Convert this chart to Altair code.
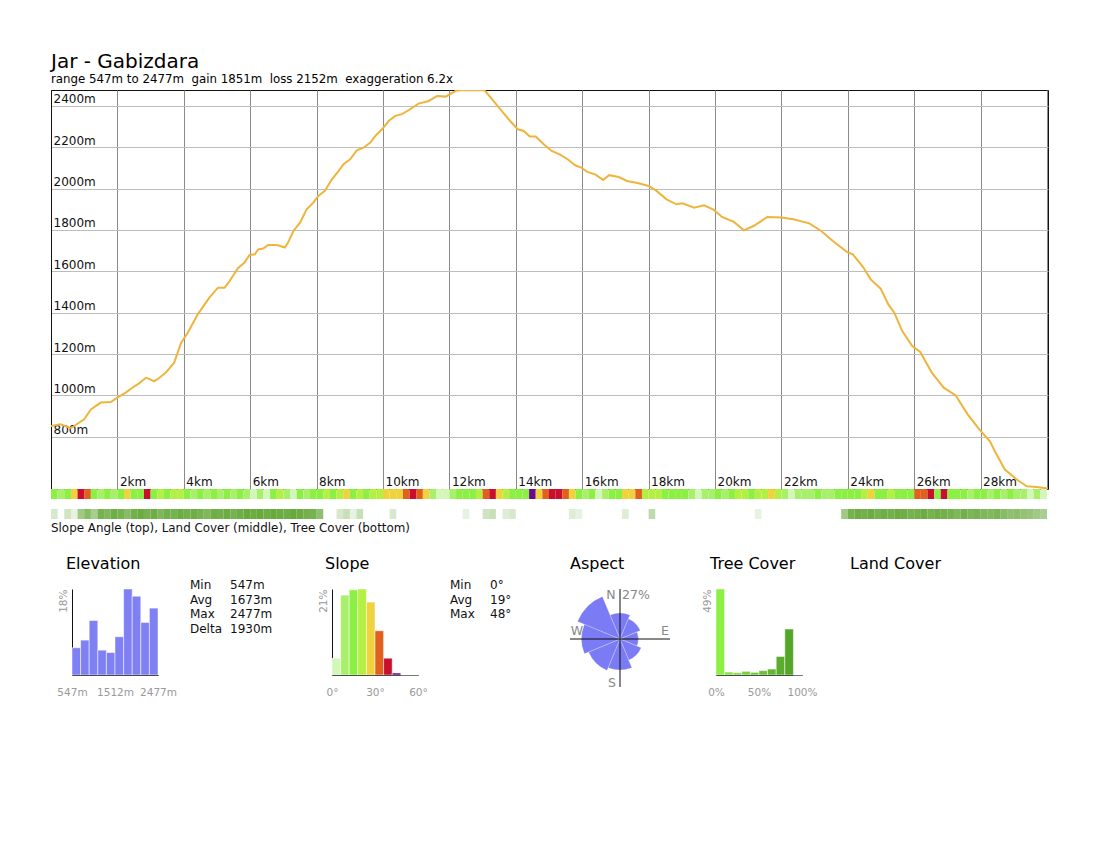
import altair as alt
import pandas as pd

FONT = "DejaVu Sans"
NB = "\u00a0"

TITLE = "Jar - Gabizdara"
SUBTITLE = ("range 547m to 2477m" + NB + " gain 1851m" + NB + " loss 2152m" + NB
            + " exaggeration 6.2x")
STRIP_CAPTION = "Slope Angle (top), Land Cover (middle), Tree Cover (bottom)"

# ---------------- elevation profile ----------------
dist_km = [0, 0.28, 0.6, 1.0, 1.2, 1.5, 1.8, 2.0, 2.25, 2.45, 2.65, 2.86, 2.96, 3.1, 3.2,
           3.46, 3.71, 3.92, 4.12, 4.42, 4.77, 5.03, 5.23, 5.38, 5.63, 5.83, 5.98, 6.14,
           6.24, 6.39, 6.54, 6.74, 6.84, 7.04, 7.14, 7.3, 7.5, 7.7, 7.9, 8.05, 8.25, 8.46,
           8.66, 8.81, 9.01, 9.21, 9.41, 9.62, 9.77, 9.97, 10.17, 10.37, 10.57, 10.77,
           11.07, 11.38, 11.63, 11.89, 12.19, 12.45, 12.69, 13.05, 13.29, 13.53, 13.83,
           14.06, 14.24, 14.42, 14.6, 14.84, 15.08, 15.32, 15.56, 15.79, 15.97, 16.15,
           16.39, 16.63, 16.81, 17.1, 17.35, 17.7, 18.0, 18.24, 18.54, 18.84, 19.02, 19.37,
           19.67, 19.97, 20.21, 20.57, 20.87, 21.16, 21.58, 22.0, 22.36, 22.84, 23.2, 23.55,
           23.97, 24.15, 24.45, 24.69, 24.99, 25.22, 25.4, 25.64, 25.94, 26.18, 26.53,
           26.89, 27.25, 27.61, 27.96, 28.28, 28.43, 28.73, 29.09, 29.39, 29.69, 30.03]
elev_m = [852, 860, 842, 884, 932, 965, 968, 989, 1013, 1037, 1058, 1085, 1080, 1068, 1077,
          1110, 1158, 1255, 1303, 1392, 1473, 1521, 1521, 1553, 1615, 1642, 1679, 1682,
          1706, 1710, 1727, 1727, 1726, 1715, 1739, 1795, 1835, 1900, 1932, 1965, 1989, 2045,
          2085, 2118, 2142, 2185, 2198, 2223, 2255, 2287, 2327, 2352, 2360, 2379,
          2411, 2424, 2448, 2445, 2473, 2477, 2476, 2477, 2432, 2384, 2327,
          2287, 2279, 2252, 2252, 2215, 2182, 2166, 2142, 2113, 2102, 2081,
          2069, 2042, 2065, 2056, 2037, 2026, 2013, 1989, 1948, 1924, 1929, 1908,
          1919, 1897, 1863, 1839, 1798, 1819, 1863, 1860, 1852, 1832, 1795, 1747,
          1694, 1682, 1623, 1561, 1516, 1440, 1400, 1311, 1239, 1210, 1110,
          1037, 1000, 908, 835, 778, 730, 641, 593, 560, 557, 549]

DIST_MAX = 30.03
ELEV_MIN, ELEV_MAX = 547, 2477
x_ticks_km = [2, 4, 6, 8, 10, 12, 14, 16, 18, 20, 22, 24, 26, 28, 30]
y_ticks_m = [800, 1000, 1200, 1400, 1600, 1800, 2000, 2200, 2400]

# ---------------- strips (0.2 km cells) ----------------
STEP_KM = 0.2
slope_deg = [14, 10, 14, 28, 38, 34, 12, 8, 14, 10,
             16, 26, 12, 14, 36, 16, 20, 14, 22, 18,
             14, 10, 14, 8, 14, 10, 16, 8, 12, 8,
             5, 10, 5, 12, 20, 8, 5, 14, 10, 16,
             12, 18, 14, 20, 26, 16, 20, 14, 22, 18,
             24, 26, 24, 34, 38, 30, 28, 10, 5, 4,
             8, 14, 16, 12, 18, 34, 36, 26, 20, 14,
             16, 12, 44, 28, 30, 36, 38, 34, 28, 12,
             10, 14, 5, 10, 12, 16, 28, 26, 30, 22,
             20, 22, 14, 12, 16, 12, 8, 5, 8, 10,
             12, 8, 14, 18, 20, 16, 22, 20, 26, 22,
             8, 4, 6, 10, 8, 12, 8, 10, 14, 12,
             16, 14, 20, 26, 16, 14, 18, 12, 16, 14,
             34, 30, 36, 14, 36, 14, 12, 16, 10, 14,
             12, 10, 14, 8, 12, 6, 10, 5, 8, 4]
tree_cover = [25, 0, 30, 15, 60, 75, 55, 85, 80, 90,
              85, 75, 88, 92, 85, 90, 80, 88, 85, 92,
              88, 90, 85, 80, 90, 88, 92, 85, 90, 95,
              92, 95, 90, 95, 92, 90, 95, 92, 88, 85,
              70, 0, 0, 25, 35, 15, 35, 0, 0, 0,
              0, 25, 0, 0, 0, 0, 0, 0, 0, 0,
              0, 0, 15, 0, 0, 30, 35, 0, 20, 25,
              0, 0, 0, 0, 0, 0, 0, 0, 20, 15,
              0, 0, 0, 0, 0, 0, 20, 0, 0, 0,
              40, 0, 0, 0, 0, 0, 0, 0, 0, 0,
              0, 0, 0, 0, 0, 0, 15, 0, 0, 0,
              0, 0, 0, 0, 0, 0, 0, 0, 0, 60,
              85, 90, 88, 92, 85, 90, 88, 92, 90, 85,
              88, 92, 85, 90, 88, 85, 80, 88, 82, 85,
              80, 78, 82, 75, 70, 72, 68, 65, 60, 55]

slope_thresholds = [6, 12, 18, 24, 30, 36, 42]
slope_colors = ["#d2f7b8", "#a8f06c", "#8cf044", "#b4f044", "#f0d23c",
                "#e0601e", "#c8102e", "#6a0a8a"]
TREE_GREEN = "#5fa532"

# ---------------- histograms ----------------
elev_hist_pct = [5.7, 7.3, 11.4, 5.2, 4.7, 8.0, 18.0, 16.5, 11.0, 14.0]
slope_hist_pct = [4.1, 19.5, 20.8, 21.0, 17.8, 10.8, 4.1, 0.5, 0, 0]
tree_hist_pct = [49, 1.7, 1.3, 2.1, 1.5, 2.5, 3.4, 10.6, 26.2, 0]

aspect_dirs = ["N", "NE", "E", "SE", "S", "SW", "W", "NW"]
aspect_center_deg = [360, 45, 90, 135, 180, 225, 270, 315]
aspect_pct = [7.6, 5.4, 3.8, 5.9, 10.8, 13.0, 16.7, 23.8]
ASPECT_MAX = 27

elev_stats_keys = ["Min", "Avg", "Max", "Delta"]
elev_stats_vals = ["547m", "1673m", "2477m", "1930m"]
slope_stats_keys = ["Min", "Avg", "Max"]
slope_stats_vals = ["0°", "19°", "48°"]

compass_labels = ["N", "W", "E", "S"]
compass_x = [-9, -43, 45, -8]
compass_y = [44, 8, 8, -44]

# =====================================================================
prof_df = pd.DataFrame({"km": dist_km, "elev": elev_m})

profile = alt.Chart(prof_df).mark_line(color="#efb43c", strokeWidth=2, clip=True).encode(
    x=alt.X("km:Q", scale=alt.Scale(domain=[0, DIST_MAX], nice=False, zero=False),
            axis=alt.Axis(values=x_ticks_km, grid=True, gridColor="#8a8a8a", domain=False,
                          ticks=False, tickSize=0, title=None,
                          labelExpr="datum.value >= 30 ? '' : datum.value + 'km'",
                          labelAlign="left", labelOffset=2, labelPadding=-4,
                          labelBaseline="alphabetic", labelFontSize=12, labelColor="#111",
                          labelFlush=False, labelOverlap=False)),
    y=alt.Y("elev:Q", scale=alt.Scale(domain=[ELEV_MIN, ELEV_MAX], nice=False, zero=False),
            axis=alt.Axis(values=y_ticks_m, grid=True, gridColor="#bdbdbd", domain=True,
                          domainColor="#111", ticks=False, tickSize=0, title=None,
                          labelExpr="datum.value + 'm'", labelAlign="left", labelPadding=-2,
                          labelBaseline="alphabetic", labelOffset=-3, labelFontSize=12,
                          labelColor="#111", labelFlush=False, labelOverlap=False)),
).properties(
    width=997, height=399,
    view=alt.ViewConfig(stroke="#111"),
    title=alt.TitleParams(TITLE, subtitle=SUBTITLE, anchor="start", fontSize=20,
                          fontWeight="normal", color="#000", subtitleFontSize=11.8,
                          subtitleColor="#000", subtitlePadding=2, offset=4,
                          frame="group", font=FONT, subtitleFont=FONT),
)

n = len(slope_deg)
slope_df = pd.DataFrame({
    "start": [i * STEP_KM for i in range(n)],
    "end": [(i + 1) * STEP_KM for i in range(n)],
    "slope": slope_deg, "row": ["slope"] * n})
tree_df = pd.DataFrame({
    "start": [i * STEP_KM for i in range(n)],
    "end": [(i + 1) * STEP_KM for i in range(n)],
    "cover": tree_cover, "row": ["tree"] * n})
tree_df = tree_df[tree_df["cover"] > 0]

strip_x = alt.Scale(domain=[0, DIST_MAX], nice=False, zero=False)
row_scale = alt.Scale(domain=["slope", "land", "tree"], range=[0, 30],
                      paddingInner=0, paddingOuter=0)
slope_scale = alt.Scale(type="threshold", domain=slope_thresholds, range=slope_colors)

slope_strip = alt.Chart(slope_df).mark_rect().encode(
    x=alt.X("start:Q", scale=strip_x, axis=None), x2="end:Q",
    y=alt.Y("row:N", scale=row_scale, axis=None),
    color=alt.Color("slope:Q", scale=slope_scale, legend=None))
tree_strip = alt.Chart(tree_df).mark_rect(color=TREE_GREEN).encode(
    x=alt.X("start:Q", scale=strip_x, axis=None), x2="end:Q",
    y=alt.Y("row:N", scale=row_scale, axis=None),
    opacity=alt.Opacity("cover:Q", scale=alt.Scale(domain=[0, 100], range=[0, 1]), legend=None))
# strip rows use the top 30 px; the rest of the 100 px is the gap before the panels
strips = alt.layer(slope_strip, tree_strip).properties(
    width=997, height=100,
    title=alt.TitleParams(STRIP_CAPTION, orient="bottom", anchor="start", fontSize=11.9,
                          fontWeight="normal", color="#111", offset=-66, frame="group"))


def panel_title(text, dx):
    return alt.TitleParams(text, anchor="start", fontSize=16, fontWeight="normal",
                           color="#000", offset=17, dx=dx, frame="group")


def hist(values, lo0, step, xdom, xvals, unit, color_enc, title, dx):
    df = pd.DataFrame({"lo": [lo0 + i * step for i in range(len(values))],
                       "hi": [lo0 + (i + 1) * step for i in range(len(values))],
                       "pct": values})
    ymax = max(values)
    return alt.Chart(df).mark_bar(stroke="white", strokeWidth=0.5).encode(
        x=alt.X("lo:Q", scale=alt.Scale(domain=xdom, nice=False, zero=False),
                axis=alt.Axis(values=xvals, labelExpr="datum.value + '" + unit + "'",
                              domain=True, domainColor="#111", ticks=False, tickSize=0,
                              grid=False, labelColor="#999", labelFontSize=10.5,
                              labelPadding=12, title=None, labelFlush=False)),
        x2="hi:Q",
        y=alt.Y("pct:Q", scale=alt.Scale(domain=[0, ymax], nice=False),
                axis=alt.Axis(values=[ymax], labelExpr="round(datum.value) + '%'",
                              labelAngle=270, labelAlign="right", labelBaseline="bottom",
                              labelPadding=4, domain=True, domainColor="#111", ticks=False,
                              tickSize=0, grid=False, labelColor="#999", labelFontSize=10.5,
                              title=None)),
        y2=alt.datum(0),
        color=color_enc,
    ).properties(width=86, height=86, title=panel_title(title, dx))


def stats(keys, vals, width):
    rows = []
    for i, (k, v) in enumerate(zip(keys, vals)):
        rows.append({"row": i, "col": "k", "txt": k})
        rows.append({"row": i, "col": "v", "txt": v})
    df = pd.DataFrame(rows)
    m = len(keys)
    return alt.Chart(df).mark_text(align="left", baseline="middle", fontSize=12,
                                   color="#111").encode(
        x=alt.X("col:N", scale=alt.Scale(domain=["k", "v"], range=[32, 72], padding=0),
                axis=None),
        y=alt.Y("row:O", scale=alt.Scale(domain=list(range(m)),
                                         range=[-4, -4 + 14.67 * (m - 1)], padding=0),
                axis=None),
        text="txt:N",
    ).properties(width=width, height=86)


def spacer(w, title=None, dx=0):
    c = alt.Chart(pd.DataFrame({"v": [0]})).mark_point(opacity=0, size=1).encode(
        x=alt.value(8), y=alt.value(8))
    if title:
        return c.properties(width=w, height=86, title=panel_title(title, dx))
    return c.properties(width=w, height=86)


elev_hist = hist(elev_hist_pct, ELEV_MIN, (ELEV_MAX - ELEV_MIN) / 10, [ELEV_MIN, ELEV_MAX],
                 [547, 1512, 2477], "m", alt.value("#8080f5"), "Elevation", -6)
slope_hist = hist(slope_hist_pct, 0, 6, [0, 60], [0, 30, 60], "°",
                  alt.Color("lo:Q", scale=slope_scale, legend=None), "Slope", -7)
tree_hist = hist(tree_hist_pct, 0, 10, [0, 100], [0, 50, 100], "%",
                 alt.Color("lo:Q", scale=alt.Scale(domain=[0, 80], range=["#8cf045", "#55a52a"]),
                           legend=None), "Tree Cover", -6)

# aspect rose
asp_df = pd.DataFrame({"dir": aspect_dirs, "c": aspect_center_deg, "pct": aspect_pct})
asp_df["a0"] = asp_df["c"] - 22.5
asp_df["a1"] = asp_df["c"] + 22.5
ax_s = alt.Scale(domain=[-50, 50], nice=False, zero=False)
ay_s = alt.Scale(domain=[-50, 50], nice=False, zero=False)
arcs = alt.Chart(asp_df).mark_arc(color="#7b7bf5", stroke="white", strokeWidth=0.4,
                                  strokeOpacity=0.6).encode(
    theta=alt.Theta("a0:Q", scale=alt.Scale(domain=[0, 360], range=[0, 6.283185307])),
    theta2="a1:Q",
    radius=alt.Radius("pct:Q", scale=alt.Scale(type="sqrt", domain=[0, ASPECT_MAX], range=[0, 49])),
)
cross_df = pd.DataFrame({"x": [-50, 0], "x2": [50, 0], "y": [0, -48], "y2": [0, 50]})
cross = alt.Chart(cross_df).mark_rule(color="#111", strokeWidth=1).encode(
    x=alt.X("x:Q", scale=ax_s, axis=None), x2="x2:Q",
    y=alt.Y("y:Q", scale=ay_s, axis=None), y2="y2:Q")
comp_df = pd.DataFrame({"t": compass_labels, "x": compass_x, "y": compass_y})
comp = alt.Chart(comp_df).mark_text(fontSize=12.5, color="#888", align="center",
                                    baseline="middle").encode(
    x=alt.X("x:Q", scale=ax_s, axis=None), y=alt.Y("y:Q", scale=ay_s, axis=None), text="t:N")
maxlab = alt.Chart(pd.DataFrame({"t": [f"{ASPECT_MAX}%"], "x": [2], "y": [44]})).mark_text(
    fontSize=12.5, color="#888", align="left", baseline="middle").encode(
    x=alt.X("x:Q", scale=ax_s, axis=None), y=alt.Y("y:Q", scale=ay_s, axis=None), text="t:N")
aspect = alt.layer(arcs, cross, comp, maxlab).properties(
    width=100, height=100, title=panel_title("Aspect", 0))

bottom = alt.hconcat(
    spacer(21), elev_hist, stats(elev_stats_keys, elev_stats_vals, 174),
    slope_hist, stats(slope_stats_keys, slope_stats_vals, 152),
    aspect, spacer(46), tree_hist, spacer(100, "Land Cover", 48),
    spacing=0, bounds="flush")

chart = alt.vconcat(profile, strips, bottom, spacing=0, bounds="flush").properties(
    padding={"left": 50, "top": 51, "right": 10, "bottom": 10}
).configure(font=FONT, background="white").configure_view(stroke="transparent")

chart.save("out.html", embed_options={"renderer": "svg", "actions": False})
